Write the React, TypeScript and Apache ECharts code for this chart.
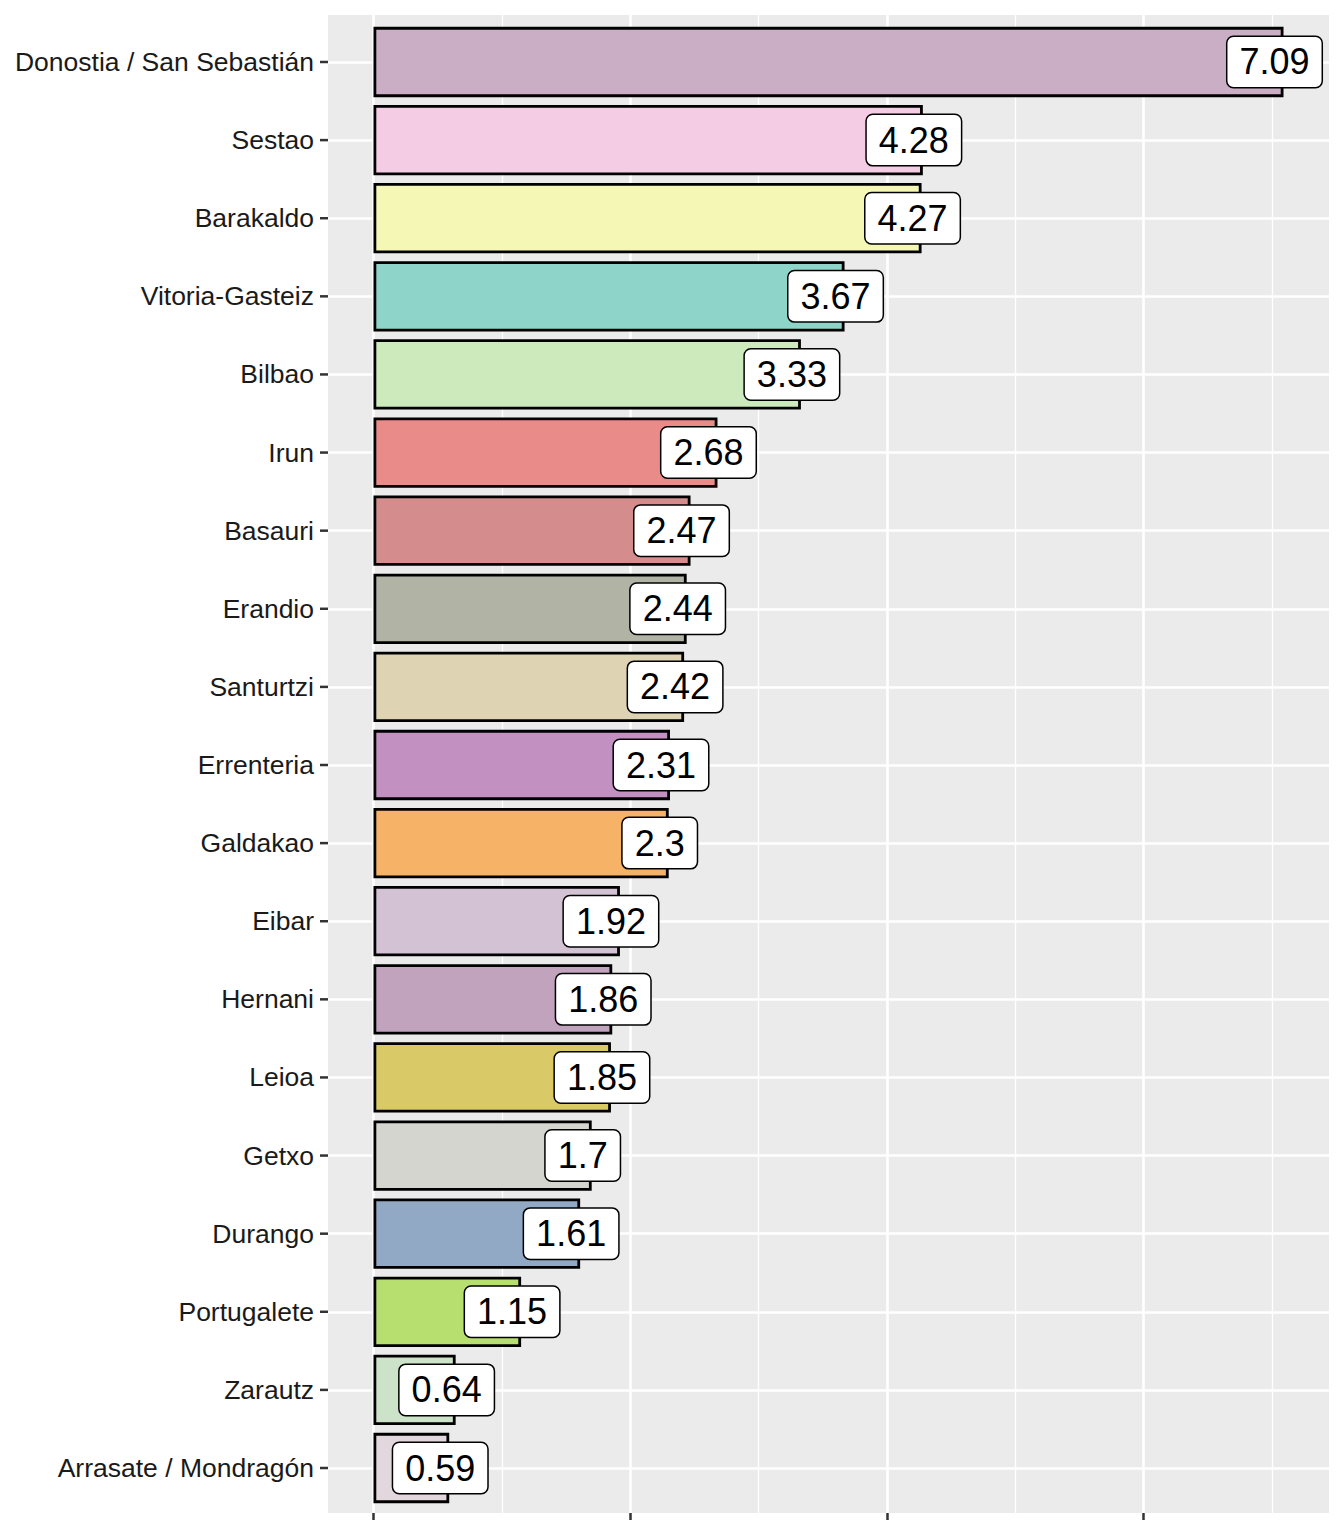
import React, { useEffect, useRef } from "react";
import * as echarts from "echarts";

const categories = [
  "Donostia / San Sebastián",
  "Sestao",
  "Barakaldo",
  "Vitoria-Gasteiz",
  "Bilbao",
  "Irun",
  "Basauri",
  "Erandio",
  "Santurtzi",
  "Errenteria",
  "Galdakao",
  "Eibar",
  "Hernani",
  "Leioa",
  "Getxo",
  "Durango",
  "Portugalete",
  "Zarautz",
  "Arrasate / Mondragón",
];

const values = [
  7.09, 4.28, 4.27, 3.67, 3.33, 2.68, 2.47, 2.44, 2.42, 2.31, 2.3, 1.92, 1.86,
  1.85, 1.7, 1.61, 1.15, 0.64, 0.59,
];

const colors = [
  "#CAAEC6",
  "#F4CCE3",
  "#F5F7B4",
  "#8ED4C8",
  "#CCEABB",
  "#E98C89",
  "#D58C8D",
  "#B1B3A5",
  "#DED4B3",
  "#C290C1",
  "#F6B266",
  "#D2C2D4",
  "#C2A3BE",
  "#D9CA67",
  "#D5D5D0",
  "#91A9C4",
  "#B7DF70",
  "#CCE2C9",
  "#E3D7DE",
];

const majorX = [0, 2, 4, 6];
const minorX = [1, 3, 5, 7];

const X_MIN = -0.3545;
const X_MAX = 7.4445;
const FONT = '"Liberation Sans", Arial, Helvetica, sans-serif';

export default function App() {
  const ref = useRef<HTMLDivElement>(null);

  useEffect(() => {
    if (!ref.current) return;
    const chart = echarts.init(ref.current, null, { renderer: "svg" });

    const vLines = [
      ...majorX.map((v) => ({ xAxis: v, lineStyle: { width: 2.6 } })),
      ...minorX.map((v) => ({ xAxis: v, lineStyle: { width: 1.3 } })),
    ];
    const hLines = categories.map((c) => ({ yAxis: c }));

    chart.setOption({
      animation: false,
      grid: [
        {
          left: 328,
          right: 15,
          top: 15,
          bottom: 23,
          show: true,
          backgroundColor: "#EBEBEB",
          borderWidth: 0,
        },
        {
          left: 328,
          right: 15,
          top: 22.94,
          bottom: 28.94,
        },
      ],
      xAxis: [
        {
          gridIndex: 0,
          type: "value",
          min: X_MIN,
          max: X_MAX,
          axisLine: { show: false },
          axisTick: {
            show: true,
            customValues: majorX,
            length: 7,
            lineStyle: { color: "#333333", width: 2.5 },
          },
          axisLabel: { show: false },
          splitLine: { show: false },
        },
        {
          gridIndex: 1,
          type: "value",
          min: X_MIN,
          max: X_MAX,
          show: false,
          splitLine: { show: false },
        },
      ],
      yAxis: [
        {
          gridIndex: 0,
          type: "value",
          min: 0,
          max: 1,
          show: false,
          splitLine: { show: false },
        },
        {
          gridIndex: 1,
          type: "category",
          data: categories,
          inverse: true,
          axisLine: { show: false },
          axisTick: { show: false },
          axisLabel: {
            color: "#1A1A1A",
            fontSize: 26.5,
            fontFamily: FONT,
            margin: 14,
          },
          splitLine: { show: false },
        },
      ],
      series: [
        {
          type: "line",
          xAxisIndex: 0,
          yAxisIndex: 0,
          data: [],
          z: 1,
          silent: true,
          markLine: {
            silent: true,
            symbol: ["none", "none"],
            label: { show: false },
            lineStyle: { color: "#FFFFFF", type: "solid", width: 2.6 },
            data: vLines,
          },
        },
        {
          type: "line",
          xAxisIndex: 1,
          yAxisIndex: 1,
          data: [],
          z: 1,
          silent: true,
          markLine: {
            silent: true,
            symbol: ["none", "none"],
            label: { show: false },
            lineStyle: { color: "#FFFFFF", type: "solid", width: 2.6 },
            data: hLines,
          },
        },
        {
          // y-axis tick marks, placed by the category scale
          type: "custom",
          xAxisIndex: 1,
          yAxisIndex: 1,
          silent: true,
          clip: false,
          z: 6,
          encode: { x: 0, y: 1 },
          data: categories.map((c) => [0, c]),
          renderItem: (params: any, api: any) => {
            const cs = params.coordSys;
            const y = api.coord([0, api.value(1)])[1];
            return {
              type: "line",
              shape: { x1: cs.x - 8, y1: y, x2: cs.x, y2: y },
              style: { stroke: "#333333", lineWidth: 2.5 },
            };
          },
        },
        {
          type: "bar",
          xAxisIndex: 1,
          yAxisIndex: 1,
          z: 5,
          barWidth: "90%",
          data: values.map((v, i) => ({
            value: v,
            itemStyle: { color: colors[i] },
          })),
          itemStyle: { borderColor: "#000000", borderWidth: 2.8 },
          label: {
            show: true,
            position: ["100%", "50%"],
            align: "center",
            verticalAlign: "middle",
            offset: [-9, 0],
            formatter: "{c}",
            fontSize: 36,
            lineHeight: 38,
            fontFamily: FONT,
            color: "#000000",
            backgroundColor: "#FFFFFF",
            borderColor: "#000000",
            borderWidth: 1.5,
            borderRadius: 6,
            padding: [6, 12, 6, 12],
          },
        },
      ],
    });

    return () => chart.dispose();
  }, []);

  return (
    <div
      ref={ref}
      style={{
        position: "absolute",
        left: 0,
        top: 0,
        width: 1344,
        height: 1536,
      }}
    />
  );
}
